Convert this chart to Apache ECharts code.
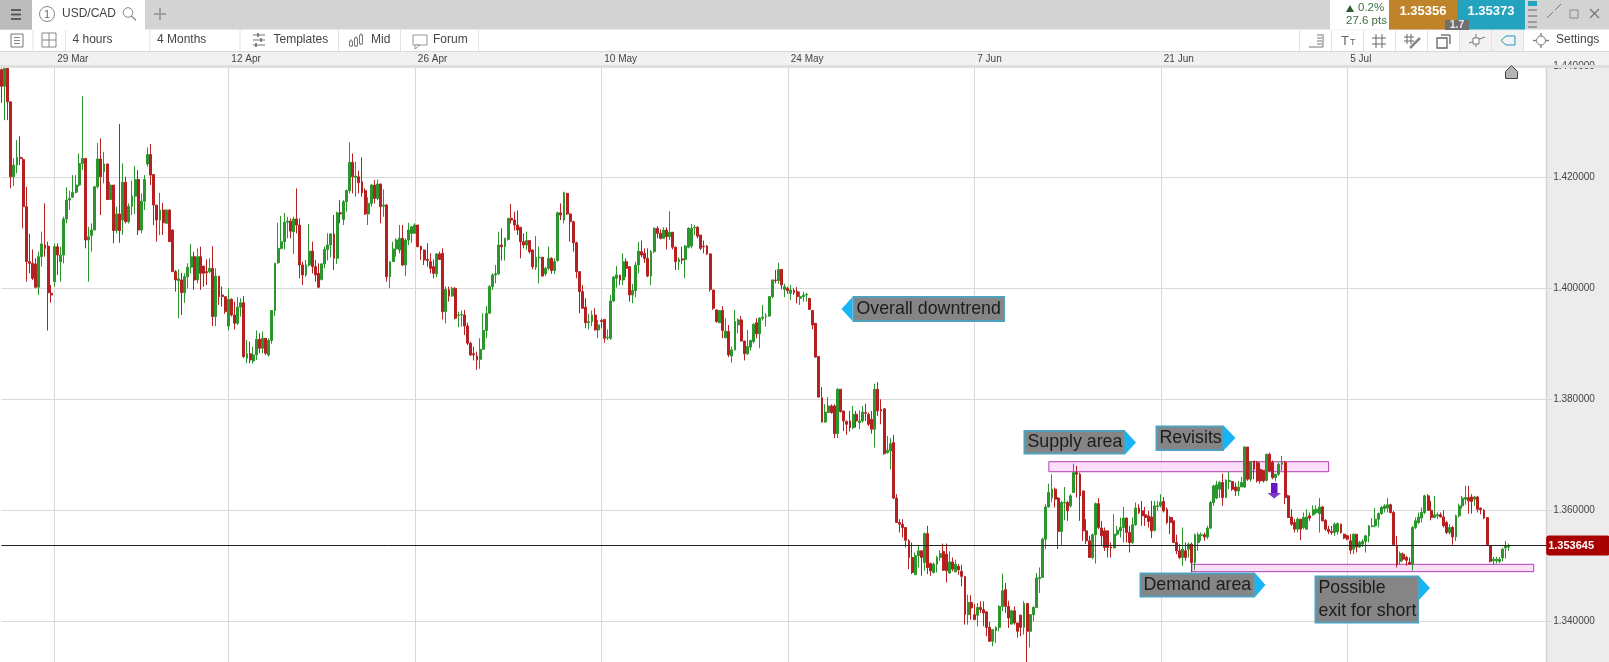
<!DOCTYPE html>
<html><head><meta charset="utf-8">
<style>html,body{margin:0;padding:0;background:#fff}#c{width:1609px;height:662px}</style>
<script src="https://cdn.jsdelivr.net/npm/echarts@6/dist/echarts.min.js"></script>
</head><body><div id="c"></div>
<script>
// candle rows: [open, close, high, low] in 1/10000 of a price unit, USD/CAD, 4-hour bars
const startMar = [
[14394,14364,14396,14334],[14364,14396,14399,14303],[14396,14336,14399,14303],[14336,14201,14336,14180],[14201,14222,14234,14184],
[14222,14236,14267,14207],[14236,14234,14274,14222],[14232,14147,14236,14108],[14147,14048,14183,14012],[14048,14045,14098,14027],
[14045,14018,14070,14015],[14044,14002,14054,14000],[14002,14057,14066,13988],[14057,14080,14102,14039],[14078,14072,14153,14057],
[14076,13992,14084,13924],[13991,13988,14006,13974]];
const from29Mar = [
[14012,14075,14081,14003],[14075,14060,14081,14024],[14048,14060,14075,14012],[14060,14125,14129,14045],[14125,14159,14182,14117],
[14159,14162,14176,14141],[14164,14173,14204,14164],[14173,14186,14204,14171],[14186,14225,14243,14183],[14225,14234,14346,14213],
[14234,14087,14234,14072],[14087,14093,14111,14012],[14095,14105,14117,14066],[14105,14183,14184,14105],[14183,14233,14262,14180],
[14233,14201,14270,14132],[14210,14224,14246,14189],[14224,14160,14224,14159],[14160,14186,14192,14159],[14186,14104,14186,14081],
[14104,14134,14147,14099],[14134,14104,14296,14082],[14123,14191,14225,14096],[14191,14120,14201,14117],[14120,14148,14153,14117],
[14148,14166,14194,14132],[14166,14196,14220,14134],[14196,14105,14213,14096],[14105,14157,14171,14099],[14157,14196,14204,14141],
[14224,14241,14254,14219],[14241,14204,14260,14186],[14205,14150,14205,14114],[14150,14123,14150,14084],[14123,14141,14172,14096],
[14141,14118,14154,14096],[14117,14141,14142,14117],[14141,14084,14142,14084],[14105,14030,14106,14030],[14030,14015,14033,13994],
[14014,14017,14034,13946],[14015,13992,14028,13952],[13992,14021,14027,13974],[14021,14038,14045,14000],[14038,14057,14080,14027],
[14057,14015,14066,13997],[14015,14057,14072,14009],[14057,14027,14075,13997],[14040,14027,14040,14003],[14030,14028,14052,14006],
[14030,14036,14054,14027],[14036,13949,14076,13932],[13949,14022,14036,13932],[14022,13985,14022,13970],[13988,13985,14003,13967],
[13985,13958,13985,13954]];
const from12Apr = [
[13932,13980,14000,13924],[13980,13952,13982,13949],[13952,13937,13976,13926],[13937,13966,13984,13934],[13966,13974,13982,13949],
[13974,13877,13986,13874],[13874,13882,13907,13865],[13882,13871,13904,13865],[13869,13880,13895,13864],[13880,13908,13924,13871],
[13908,13892,13919,13883],[13892,13910,13922,13883],[13910,13883,13910,13880],[13880,13906,13910,13877],[13906,13960,13960,13900],
[13960,14045,14046,13950],[14046,14072,14118,14044],[14072,14084,14130,14070],[14084,14119,14136,14070],[14119,14121,14129,14090],
[14121,14103,14126,14090],[14102,14125,14129,14062],[14125,14114,14180,14099],[14114,14042,14126,14018],[14042,14024,14048,14006],
[14024,14042,14051,14021],[14042,14067,14116,14039],[14067,14039,14084,14027],[14039,14024,14051,14012],[14027,14002,14045,14000],
[14016,14044,14045,14014],[14044,14070,14075,14036],[14070,14078,14099,14050],[14078,14098,14099,14056],[14098,14054,14132,14033],
[14054,14136,14138,14044],[14136,14134,14159,14117],[14124,14156,14159,14114],[14156,14176,14178,14138],[14176,14227,14263,14171],
[14227,14201,14243,14171],[14200,14202,14228,14165],[14201,14190,14212,14171],[14192,14172,14236,14165],[14176,14134,14180,14132],
[14134,14153,14164,14114],[14153,14186,14188,14147],[14186,14162,14195,14153],[14162,14188,14196,14159],[14188,14147,14188,14117],
[14148,14150,14178,14129],[14150,14021,14152,14012],[14021,14048,14048,14000],[14048,14071,14084,14048],[14071,14087,14090,14057],
[14069,14090,14114,14063],[14090,14042,14114,14040],[14042,14087,14090,14022],[14087,14105,14118,14078],[14099,14111,14112,14082]];
const from26Apr = [
[14099,14114,14117,14099],[14114,14075,14114,14074],[14076,14069,14076,14051],[14069,14051,14070,14042],[14052,14050,14081,14039],
[14048,14036,14063,14027],[14039,14027,14052,14018],[14026,14062,14063,14020],[14062,14052,14066,14051],[14063,13958,14072,13944],
[13958,13998,14003,13937],[13998,13986,14003,13976],[13986,14000,14003,13985],[14000,13946,14002,13944],[13951,13952,13958,13930],
[13952,13953,13960,13931],[13952,13932,13961,13916],[13932,13901,13938,13898],[13901,13880,13904,13878],[13882,13880,13895,13870],
[13878,13871,13886,13853],[13872,13890,13910,13855],[13890,13924,13955,13890],[13924,13955,13968,13910],[13955,14003,14006,13955],
[14003,14024,14027,13997],[14024,14026,14042,14009],[14026,14078,14102,14024],[14078,14075,14108,14050],[14075,14090,14091,14050],
[14088,14126,14127,14086],[14126,14123,14152,14117],[14123,14114,14138,14104],[14114,14105,14140,14096],[14110,14084,14110,14054],
[14084,14078,14099,14072],[14078,14086,14102,14069],[14086,14066,14086,14063],[14069,14039,14070,14034],[14038,14056,14094,14033],
[14055,14056,14075,14009],[14056,14022,14056,14021],[14026,14036,14039,14022],[14036,14054,14075,14033],[14054,14032,14056,14026],
[14032,14048,14054,14026],[14050,14136,14138,14048],[14136,14132,14153,14123],[14123,14172,14174,14117],[14171,14134,14172,14132],
[14134,14120,14135,14084],[14120,14082,14122,14066],[14082,14030,14084,14018],[14030,13994,14030,13955],[13994,13964,14006,13964],
[13966,13938,13982,13928],[13938,13940,13954,13926],[13940,13952,13960,13932],[13952,13925,13964,13924],[13925,13934,13943,13910]];
const from10May = [
[13942,13940,13945,13928],[13944,13910,13944,13902],[13911,13912,13926,13907],[13910,13977,13988,13907],[13977,14020,14022,13976],
[14018,14024,14040,14001],[14024,14015,14024,14006],[14015,14048,14063,14006],[14048,14036,14054,14020],[14039,13988,14039,13976],
[13988,13996,14008,13973],[13996,14042,14048,13984],[14042,14067,14084,14027],[14066,14060,14086,14056],[14063,14054,14072,14046],
[14054,14022,14072,14020],[14022,14066,14069,14006],[14066,14108,14110,14063],[14108,14099,14112,14090],[14099,14090,14106,14088],
[14090,14105,14110,14090],[14105,14093,14110,14070],[14093,14101,14139,14087],[14101,14074,14101,14070],[14074,14048,14075,14033],
[14048,14052,14056,14033],[14053,14051,14075,14044],[14052,14076,14078,14018],[14074,14108,14110,14072],[14076,14108,14116,14072],
[14109,14110,14114,14096],[14110,14094,14112,14090],[14096,14072,14096,14069],[14076,14075,14086,14063],[14076,14062,14078,14060],
[14062,13998,14063,13994],[13997,13964,13997,13961],[13961,13940,13962,13938],[13938,13960,13961,13938],[13960,13924,13968,13910],
[13911,13923,13946,13910],[13922,13880,13934,13876],[13878,13889,13895,13866],[13889,13940,13961,13888],[13934,13943,13946,13919],
[13943,13905,13950,13904],[13905,13882,13905,13870],[13882,13895,13925,13880],[13894,13906,13907,13888],[13904,13935,13937,13901],
[13938,13918,13946,13910],[13918,13946,13948,13892],[13946,13948,13970,13942],[13949,13950,13955,13931],[13950,13985,13986,13949],
[13985,14015,14016,13982],[14015,14014,14033,14009],[14014,14034,14046,14008],[14034,14006,14034,13998],[13998,14003,14008,13984]];
const from24May = [
[14000,13996,14003,13990],[13991,13997,14006,13979],[13996,13992,14000,13988],[13994,13985,14002,13973],[13982,13985,13994,13970],
[13985,13988,13994,13976],[13988,13989,13992,13976],[13982,13962,13982,13961],[13960,13934,13961,13926],[13937,13876,13937,13875],
[13877,13804,13877,13803],[13803,13759,13822,13758],[13759,13777,13791,13758],[13776,13788,13804,13776],[13788,13776,13791,13774],
[13788,13738,13791,13730],[13738,13818,13820,13730],[13818,13778,13818,13776],[13779,13761,13779,13743],[13760,13755,13762,13736],
[13761,13749,13779,13742],[13749,13773,13788,13746],[13773,13761,13779,13749],[13758,13761,13780,13746],[13761,13777,13788,13758],
[13776,13775,13792,13761],[13773,13755,13776,13752],[13764,13746,13779,13738],[13746,13818,13828,13713],[13818,13779,13831,13770],
[13782,13779,13800,13755],[13783,13702,13783,13700],[13704,13708,13734,13702],[13707,13720,13730,13674],[13722,13622,13736,13620],
[13622,13578,13629,13577],[13578,13575,13584,13560],[13575,13569,13584,13551],[13569,13546,13569,13533],[13545,13515,13548,13494],
[13515,13488,13542,13485],[13484,13518,13524,13484],[13518,13527,13536,13497],[13527,13515,13527,13482],[13506,13558,13560,13491],
[13558,13497,13572,13485],[13504,13491,13506,13482],[13488,13503,13506,13486],[13503,13515,13518,13488],[13515,13522,13528,13509],
[13526,13492,13540,13491],[13521,13491,13540,13470],[13487,13507,13526,13486],[13507,13494,13515,13490],[13489,13503,13511,13489],
[13499,13493,13503,13484],[13490,13481,13502,13463],[13481,13412,13481,13394],[13412,13434,13448,13394],[13434,13424,13447,13403]];
const from7Jun = [
[13412,13403,13431,13403],[13411,13425,13433,13391],[13425,13421,13436,13415],[13421,13415,13436,13391],[13417,13389,13417,13373],
[13389,13364,13399,13363],[13364,13385,13385,13355],[13383,13389,13391,13361],[13389,13427,13429,13382],[13427,13455,13486,13418],
[13457,13427,13469,13415],[13427,13406,13437,13388],[13395,13419,13421,13394],[13419,13397,13427,13394],[13397,13382,13397,13371],
[13411,13389,13412,13373],[13389,13432,13436,13376],[13432,13382,13432,13325],[13382,13412,13413,13353],[13412,13425,13427,13400],
[13425,13478,13487,13425],[13477,13479,13497,13451],[13479,13548,13551,13479],[13548,13606,13611,13530],[13606,13632,13648,13605],
[13622,13638,13665,13614],[13638,13620,13641,13605],[13622,13562,13624,13530],[13562,13614,13617,13536],[13613,13614,13642,13582],
[13614,13599,13617,13581],[13608,13626,13629,13605],[13632,13668,13684,13632],[13668,13665,13680,13623],[13665,13626,13668,13581],
[13635,13563,13635,13545],[13563,13545,13584,13539],[13545,13515,13554,13514],[13515,13556,13558,13512],[13556,13612,13614,13504],
[13612,13569,13622,13566],[13568,13554,13581,13536],[13563,13533,13569,13527],[13563,13533,13563,13515],[13534,13532,13542,13515],
[13532,13557,13593,13532],[13557,13564,13572,13554],[13563,13569,13587,13551],[13569,13586,13606,13542],[13586,13560,13587,13542],
[13560,13542,13572,13524],[13542,13574,13587,13539],[13574,13604,13614,13572],[13604,13596,13611,13593],[13599,13590,13617,13572],
[13592,13587,13606,13572],[13590,13580,13599,13569],[13588,13563,13617,13550],[13564,13608,13617,13562],[13607,13608,13617,13599]];
const from21Jun = [
[13608,13615,13629,13605],[13616,13599,13624,13596],[13602,13578,13605,13575],[13587,13578,13590,13557],[13581,13542,13588,13542],
[13542,13527,13556,13521],[13527,13515,13539,13512],[13515,13530,13569,13500],[13527,13515,13542,13509],[13530,13539,13542,13515],
[13539,13506,13542,13488],[13506,13556,13558,13492],[13542,13556,13560,13527],[13555,13556,13560,13545],[13556,13552,13560,13545],
[13552,13568,13572,13548],[13568,13614,13617,13566],[13614,13644,13646,13608],[13622,13646,13653,13620],[13638,13650,13653,13622],
[13650,13623,13666,13608],[13623,13654,13656,13622],[13652,13654,13670,13638],[13652,13638,13653,13635],[13642,13635,13650,13626],
[13635,13642,13653,13626],[13642,13650,13660,13642],[13642,13714,13716,13640],[13714,13656,13714,13653],[13656,13688,13689,13652],
[13689,13674,13689,13656],[13686,13653,13689,13650],[13674,13653,13686,13648],[13672,13653,13672,13650],[13654,13701,13702,13652],
[13701,13671,13704,13669],[13686,13659,13690,13656],[13659,13665,13666,13652],[13665,13683,13686,13662],[13683,13686,13698,13671],
[13686,13623,13689,13611],[13626,13587,13628,13586],[13588,13575,13602,13572],[13578,13566,13584,13560],[13566,13584,13587,13560],
[13584,13566,13584,13546],[13569,13587,13596,13566],[13566,13588,13602,13566],[13590,13586,13596,13581],[13592,13601,13609,13590],
[13596,13602,13609,13593],[13594,13606,13622,13560],[13606,13581,13608,13580],[13582,13566,13584,13563],[13566,13562,13572,13557],
[13562,13560,13572,13556],[13560,13575,13578,13554],[13561,13576,13578,13556],[13575,13560,13576,13558],[13557,13550,13558,13548]];
const from5Jul = [
[13554,13548,13556,13546],[13545,13528,13557,13521],[13530,13557,13558,13521],[13557,13534,13557,13524],[13534,13542,13545,13532],
[13539,13544,13548,13534],[13544,13554,13556,13524],[13554,13572,13573,13542],[13571,13572,13586,13569],[13572,13584,13604,13569],
[13584,13594,13596,13569],[13594,13605,13608,13592],[13603,13608,13611,13596],[13604,13610,13622,13596],[13610,13596,13612,13594],
[13596,13538,13599,13536],[13536,13502,13554,13497],[13508,13522,13526,13503],[13521,13512,13524,13509],[13515,13510,13518,13500],
[13506,13503,13515,13502],[13503,13569,13572,13491],[13569,13581,13587,13566],[13578,13588,13596,13575],[13586,13596,13605,13578],
[13596,13626,13628,13593],[13626,13600,13629,13599],[13600,13587,13617,13582],[13587,13592,13626,13586],[13590,13592,13596,13584],
[13592,13588,13596,13587],[13588,13572,13600,13569],[13578,13560,13581,13557],[13560,13569,13575,13556],[13569,13552,13572,13538],
[13552,13590,13592,13545],[13590,13608,13612,13587],[13608,13622,13626,13603],[13620,13623,13644,13610],[13623,13617,13644,13594],
[13624,13616,13629,13594],[13620,13624,13626,13608],[13624,13602,13626,13596],[13604,13601,13605,13593],[13600,13586,13602,13584],
[13587,13538,13587,13536],[13536,13508,13537,13506],[13509,13512,13516,13502],[13509,13512,13516,13504],[13508,13512,13516,13505],
[13514,13530,13532,13508],[13532,13536,13545,13513],[13534,13536,13540,13527]];

const tickLabels = ['29 Mar','12 Apr','26 Apr','10 May','24 May','7 Jun','21 Jun','5 Jul'];
const tickSlots  = [17,73,133,193,253,313,373,433];
const slotCount  = 498;
const lastPrice  = 1.353645;
const priceTicks = [1.44,1.42,1.40,1.38,1.36,1.34,1.32];
const supplyZone = {from:337, to:427, top:1.36876, bottom:1.36695};
const demandZone = {from:383, to:493, top:1.35027, bottom:1.34894};

const rows = [startMar,from29Mar,from12Apr,from26Apr,from10May,from24May,from7Jun,from21Jun,from5Jul].flat();
const categories = Array.from({length:slotCount},(_,i)=>{const k=tickSlots.indexOf(i);return k>=0?tickLabels[k]:String(i);});
const candleData = rows.map(r=>[r[0]/1e4,r[1]/1e4,r[3]/1e4,r[2]/1e4]);

const FF='"Liberation Sans", Arial, sans-serif';
const G=[];
const rect=(x,y,w,h,fill,z,extra)=>G.push({type:'rect',silent:true,z:z,shape:{x,y,width:w,height:h},style:Object.assign({fill},extra||{})});
const line=(x1,y1,x2,y2,c,z,lw)=>G.push({type:'line',silent:true,z:z,shape:{x1,y1,x2,y2},style:{stroke:c,lineWidth:lw||1,fill:null}});
const txt=(x,y,t,size,fill,z,opt)=>G.push({type:'text',silent:true,z:z,x,y,style:Object.assign({text:t,fill,font:(opt&&opt.w||'normal')+' '+size+'px '+FF,textAlign:opt&&opt.a||'left',textVerticalAlign:'middle'})});
const poly=(pts,fill,z,stroke)=>G.push({type:'polygon',silent:true,z:z,shape:{points:pts},style:{fill,stroke:stroke||null,lineWidth:1}});
const circ=(cx,cy,r,c,z)=>G.push({type:'circle',silent:true,z:z,shape:{cx,cy,r},style:{fill:null,stroke:c,lineWidth:1}});

// right axis panel and bands
rect(1546,68,63,594,'#ececec',-5);
line(1546.5,68,1546.5,662,'#d4d4d4',-4,1.5);
rect(0,52,1609,13,'#f1f1f1',-5);
rect(0,65,1609,3,'#dedede',90);
// top bar
rect(0,0,1609,29.5,'#d3d3d3',100);
rect(0,0,32,29.5,'#bcbcbc',101);
[10,14.5,19].forEach(y=>line(11,y,21,y,'#555',102,1.8));
rect(32,0,113,30,'#ffffff',101);
circ(47,14,7.5,'#888',102); txt(47,14.5,'1',11,'#666',102,{a:'center'});
txt(62,14,'USD/CAD',12,'#444',102);
circ(128,12.5,4.8,'#888',102); line(131.5,16,136,20.5,'#888',102,1.2);
line(160,8,160,20,'#a0a0a0',102,2); line(154,14,166,14,'#a0a0a0',102,2);
// quote boxes
rect(1330,0,59,29.5,'#ffffff',101);
poly([[1346,12],[1354,12],[1350,5]],'#2f5d2f',102);
txt(1358,8,'0.2%',11.5,'#3e6e3e',102);
txt(1346,21,'27.6 pts',11.5,'#3e6e3e',102);
rect(1389,0,68,29.5,'#bf8429',101); txt(1423,11,'1.35356',13,'#fff',102,{a:'center',w:'bold'});
rect(1457,0,68,29.5,'#23a3bd',101); txt(1491,11,'1.35373',13,'#fff',102,{a:'center',w:'bold'});
rect(1445,20,24,10,'#707070',103); txt(1457,25,'1.7',10.5,'#e8e8e8',104,{a:'center',w:'bold'});
rect(1528,1,9,5,'#23a3bd',102);
[10,16,22,27].forEach(y=>line(1528,y,1537,y,'#666',102,1));
line(1547,18,1553,12,'#777',102,1); line(1555,10,1561,4,'#777',102,1);
rect(1570,10,8,8,'#d3d3d3',102,{stroke:'#888',lineWidth:1}); 
line(1590,9,1599,18,'#777',102,1.3); line(1599,9,1590,18,'#777',102,1.3);
// toolbar
rect(0,30,1609,21,'#ffffff',100);
line(0,51.5,1609,51.5,'#d8d8d8',101);
[33,65.5,150,240,338.5,400.5,478.5,1299.5,1331.5,1363.5,1395.5,1427.5,1459.5,1491.5,1523.5].forEach(x=>line(x,30,x,51,'#e2e2e2',101));
rect(1460,30,63,21,'#f2f2f2',100.5);
rect(11,34,12,13,'#fff',102,{stroke:'#777',lineWidth:1});
[37.5,40.5,43.5].forEach(y=>line(14,y,20,y,'#888',102));
rect(42,33,14,14,'#fff',102,{stroke:'#888',lineWidth:1}); line(49,33,49,47,'#888',102); line(42,40,56,40,'#888',102);
[['4 hours',72.5],['4 Months',157],['Templates',273.5],['Mid',371],['Forum',433],['Settings',1556]].forEach(a=>txt(a[1],40,a[0],12,'#444',102));
[35,40,45].forEach((y,i)=>{line(253,y,265,y,'#888',102,1.2);});
line(258,33,258,37,'#666',102,1.5);line(261,38,261,42,'#666',102,1.5);line(256,43,256,47,'#666',102,1.5);
[[351,41,46],[356,38,46],[361,35,44]].forEach(b=>{line(b[0],b[1]-2,b[0],b[2]+1,'#888',102);rect(b[0]-1.5,b[1],3,b[2]-b[1],'#fff',103,{stroke:'#777',lineWidth:1});});
rect(413,35,14,10,'#fff',102,{stroke:'#999',lineWidth:1}); poly([[415,45],[420,45],[415,49]],'#fff',103,'#999');
[35,38,41,44].forEach(y=>line(1317,y,1322,y,'#777',102)); line(1309,47,1323,47,'#777',102); line(1323,34,1323,47,'#777',102);
txt(1341,41,'T',13,'#666',102); txt(1350,43,'T',9,'#666',102);
line(1376,34,1376,48,'#666',102); line(1382,34,1382,48,'#666',102); line(1372,38,1386,38,'#666',102); line(1372,44,1386,44,'#666',102);
line(1407,34,1407,44,'#666',102); line(1411,34,1411,44,'#666',102); line(1404,37,1414,37,'#666',102); line(1404,41,1414,41,'#666',102); line(1410,48,1420,38,'#888',102,2.5);
rect(1437,38,10,10,'#fff',102,{stroke:'#666',lineWidth:1.3}); line(1441,35,1450,35,'#666',102,1.3); line(1450,35,1450,44,'#666',102,1.3);
line(1469,43,1485,37,'#777',102); line(1476,34,1476,47,'#777',102); rect(1473,38,6,6,'#fff',103,{stroke:'#777',lineWidth:1});
poly([[1501,40.5],[1506,36],[1515,36],[1515,45],[1506,45]],'#f2f2f2',102,'#2496c0');
circ(1541,40.5,4.5,'#777',102); [[1541,33,1541,36],[1541,45,1541,48],[1533,40.5,1536,40.5],[1546,40.5,1549,40.5]].forEach(a=>line(a[0],a[1],a[2],a[3],'#777',102,1.3));
// home marker
poly([[1505.5,71.5],[1511.5,65.5],[1517.5,71.5],[1517.5,78.5],[1505.5,78.5]],'#b4b4b4',95,'#444');

// callouts
function callout(l,t,r,b,tipX,cy,ah,lines,dir){
  if(dir==='left') poly([[tipX,cy],[l-1,cy-ah],[l-1,cy+ah]],'#18b4f6',50);
  else poly([[r+1,cy-ah],[tipX,cy],[r+1,cy+ah]],'#18b4f6',50);
  rect(l,t,r-l,b-t,'#858585',51,{stroke:'#4fa1bd',lineWidth:2});
  lines.forEach(a=>txt(l+3,a[1],a[0],17.8,'#1c1c1c',52));
}
callout(853.5,297,1004,321,841.5,309,12,[['Overall downtrend',309]],'left');
callout(1024.5,431,1124,453.5,1136,442.5,12,[['Supply area',442.5]]);
callout(1156.5,426.5,1223,450,1235.5,438,12,[['Revisits',438]]);
callout(1140.5,573.5,1254,596.5,1265.5,585,12,[['Demand area',585]]);
callout(1315.5,576.5,1418,622.5,1430,588,12,[['Possible',588],['exit for short',611]]);
// purple arrow
rect(1271,483,6.5,10,'#6a14c8',55);
poly([[1267.5,493],[1281,493],[1274.2,498.5]],'#7a3cc4',55);

const chart=echarts.init(document.getElementById('c'),null,{renderer:'canvas'});
chart.setOption({
  animation:false,
  backgroundColor:'#fff',
  grid:{left:1.46,top:66.3,width:1544.7,height:666,containLabel:false,outerBoundsMode:'none'},
  graphic:{elements:G},
  xAxis:{type:'category',position:'top',data:categories,boundaryGap:false,
    axisLine:{show:false},axisTick:{show:false},
    axisLabel:{interval:(i)=>tickSlots.includes(i),formatter:v=>v,align:'left',margin:2.5,color:'#444',fontSize:10,fontFamily:FF,padding:[0,0,0,3],hideOverlap:false},
    splitLine:{show:true,interval:(i)=>tickSlots.includes(i),lineStyle:{color:'#d9d9d9',width:1}}},
  yAxis:{type:'value',position:'right',min:priceTicks[priceTicks.length-1],max:priceTicks[0],interval:0.02,scale:true,
    axisLine:{show:false},
    axisTick:{show:true,length:6,lineStyle:{color:'#d9d9d9'}},
    axisLabel:{formatter:v=>v.toFixed(6),color:'#444',fontSize:10,fontFamily:FF,margin:7},
    splitLine:{show:true,lineStyle:{color:'#d9d9d9',width:1}}},
  series:[{type:'candlestick',data:candleData,barWidth:2.4,clip:false,
    itemStyle:{color:'#2b962b',color0:'#b72020',borderColor:'#2b962b',borderColor0:'#b72020',borderWidth:1},
    markArea:{silent:true,itemStyle:{color:'rgba(251,208,250,0.72)',borderColor:'#b23fb2',borderWidth:1},
      data:[[{coord:[supplyZone.from,supplyZone.top]},{coord:[supplyZone.to,supplyZone.bottom]}],
            [{coord:[demandZone.from,demandZone.top]},{coord:[demandZone.to,demandZone.bottom]}]]},
    markLine:{silent:true,symbol:'none',lineStyle:{color:'#222',width:1,type:'solid'},
      label:{show:true,position:'end',distance:0,formatter:()=>lastPrice.toFixed(6),color:'#fff',fontWeight:'bold',fontSize:11,fontFamily:FF,backgroundColor:'#a80000',padding:[4,16,4,2],borderRadius:3,lineHeight:12},
      data:[[{coord:[0,lastPrice]},{coord:[slotCount-1,lastPrice]}]]}
  }]
});
</script></body></html>
